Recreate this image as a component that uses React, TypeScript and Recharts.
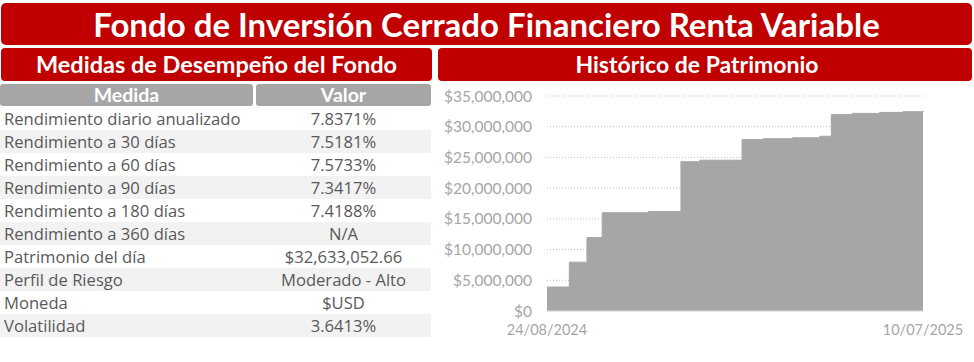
import React from "react";
import { AreaChart, Area, XAxis, YAxis, CartesianGrid } from "recharts";

const TITLE = "Fondo de Inversión Cerrado Financiero Renta Variable";
const LEFT_HEADER = "Medidas de Desempeño del Fondo";
const RIGHT_HEADER = "Histórico de Patrimonio";
const TABLE_COLUMNS = ["Medida", "Valor"];

const measureNames = [
  "Rendimiento diario anualizado",
  "Rendimiento a 30 días",
  "Rendimiento a 60 días",
  "Rendimiento a 90 días",
  "Rendimiento a 180 días",
  "Rendimiento a 360 días",
  "Patrimonio del día",
  "Perfil de Riesgo",
  "Moneda",
  "Volatilidad",
];
const measureValues = [
  "7.8371%",
  "7.5181%",
  "7.5733%",
  "7.3417%",
  "7.4188%",
  "N/A",
  "$32,633,052.66",
  "Moderado - Alto",
  "$USD",
  "3.6413%",
];

const historyDates = [
  "2024-08-24",
  "2024-09-12",
  "2024-09-27",
  "2024-10-10",
  "2024-11-18",
  "2024-12-16",
  "2025-01-01",
  "2025-02-06",
  "2025-02-24",
  "2025-03-21",
  "2025-04-13",
  "2025-04-23",
  "2025-05-11",
  "2025-06-03",
  "2025-06-23",
  "2025-07-10",
];
const historyValues = [
  3900000, 7950000, 11950000, 16000000, 16200000, 24300000, 24550000,
  27900000, 28050000, 28200000, 28450000, 32000000, 32170000, 32330000,
  32450000, 32633052.66,
];
const yTicks = [0, 5000000, 10000000, 15000000, 20000000, 25000000, 30000000, 35000000];
const xTickDates = ["2024-08-24", "2025-07-10"];

const toTs = (s: string) => {
  const [y, m, d] = s.split("-").map(Number);
  return Date.UTC(y, m - 1, d);
};
const fmtDate = (ts: number) => {
  const d = new Date(ts);
  const dd = String(d.getUTCDate()).padStart(2, "0");
  const mm = String(d.getUTCMonth() + 1).padStart(2, "0");
  return `${dd}/${mm}/${d.getUTCFullYear()}`;
};
const fmtMoney = (v: number) => "$" + v.toLocaleString("en-US");

const chartData = historyDates.map((d, i) => ({ t: toTs(d), value: historyValues[i] }));
const xTicks = xTickDates.map(toTs);

const RED = "#C00000";
const GRAY = "#A6A6A6";
const FONT = "Lato, 'Open Sans', sans-serif";
const BODY_FONT = "'Open Sans', Lato, sans-serif";

export default function App() {
  const rowH = 23;
  const rowTop = 107;
  return (
    <div
      style={{
        position: "absolute",
        left: 0,
        top: 0,
        width: 974,
        height: 362,
        background: "#fff",
        fontFamily: FONT,
        overflow: "hidden",
      }}
    >
      {/* Title bar */}
      <div
        style={{
          position: "absolute",
          left: 1,
          top: 3,
          width: 971,
          height: 42,
          background: RED,
          borderRadius: 5,
          color: "#fff",
          fontWeight: 700,
          fontSize: 33,
          lineHeight: "42px",
          textAlign: "center",
        }}
      >
        {TITLE}
      </div>
      {/* Left header */}
      <div
        style={{
          position: "absolute",
          left: 1,
          top: 48,
          width: 431,
          height: 33,
          background: RED,
          borderRadius: 4,
          color: "#fff",
          fontWeight: 700,
          fontSize: 23.5,
          lineHeight: "33px",
          textAlign: "center",
        }}
      >
        {LEFT_HEADER}
      </div>
      {/* Right header */}
      <div
        style={{
          position: "absolute",
          left: 438,
          top: 48,
          width: 534,
          height: 33,
          background: RED,
          borderRadius: 4,
          color: "#fff",
          fontWeight: 700,
          fontSize: 23,
          lineHeight: "33px",
          textAlign: "center",
          paddingRight: 16,
          boxSizing: "border-box",
        }}
      >
        {RIGHT_HEADER}
      </div>
      {/* Table header */}
      <div
        style={{
          position: "absolute",
          left: 0,
          top: 84,
          width: 253,
          height: 22,
          background: GRAY,
          borderRadius: 3,
          color: "#fff",
          fontWeight: 700,
          fontSize: 19.5,
          lineHeight: "22px",
          textAlign: "center",
        }}
      >
        {TABLE_COLUMNS[0]}
      </div>
      <div
        style={{
          position: "absolute",
          left: 256,
          top: 84,
          width: 175,
          height: 22,
          background: GRAY,
          borderRadius: 3,
          color: "#fff",
          fontWeight: 700,
          fontSize: 19.5,
          lineHeight: "22px",
          textAlign: "center",
        }}
      >
        {TABLE_COLUMNS[1]}
      </div>
      {/* Table rows */}
      {measureNames.map((name, i) => (
        <div
          key={name}
          style={{
            position: "absolute",
            left: 0,
            top: rowTop + i * rowH,
            width: 431,
            height: rowH,
            background: i % 2 === 1 ? "#F2F2F2" : "#FFFFFF",
            color: "#595959",
            fontFamily: BODY_FONT,
            fontSize: 16.6,
            lineHeight: rowH + "px",
            whiteSpace: "nowrap",
          }}
        >
          <span style={{ position: "absolute", left: 4 }}>{name}</span>
          <span
            style={{
              position: "absolute",
              left: 256,
              width: 175,
              textAlign: "center",
            }}
          >
            {measureValues[i]}
          </span>
        </div>
      ))}
      {/* Chart */}
      <div style={{ position: "absolute", left: 436, top: 84 }}>
        <AreaChart
          width={538}
          height={262}
          data={chartData}
          margin={{ top: 12, right: 51, left: 0, bottom: 5 }}
        >
          <CartesianGrid
            vertical={false}
            stroke="#BFBFBF"
            strokeDasharray="1 2"
          />
          <XAxis
            dataKey="t"
            type="number"
            scale="time"
            domain={[xTicks[0], xTicks[1]]}
            ticks={xTicks}
            interval={0}
            tickFormatter={fmtDate}
            tickLine={false}
            axisLine={{ stroke: "#D9D9D9" }}
            tickMargin={8}
            tick={{ fill: "#A6A6A6", fontSize: 14.5, fontFamily: FONT }}
            height={30}
          />
          <YAxis
            type="number"
            domain={[0, 35000000]}
            ticks={yTicks}
            interval={0}
            tickFormatter={fmtMoney}
            axisLine={false}
            tickLine={false}
            tickMargin={9}
            width={111}
            tick={{ fill: "#A6A6A6", fontSize: 15.5, fontFamily: FONT }}
          />
          <Area
            type="stepAfter"
            dataKey="value"
            fill={GRAY}
            fillOpacity={1}
            stroke={GRAY}
            strokeWidth={1}
            isAnimationActive={false}
          />
        </AreaChart>
      </div>
    </div>
  );
}
